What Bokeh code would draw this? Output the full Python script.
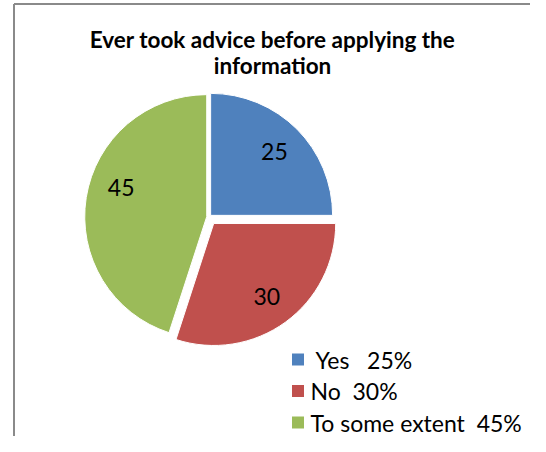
import numpy as np
from bokeh.plotting import figure
from bokeh.models import Range1d, ColumnDataSource
from bokeh.core.properties import value
from bokeh.embed import file_html
from bokeh.resources import INLINE

# ---- data ----
categories = ["Yes", "No", "To some extent"]
values = [25, 30, 45]
slice_labels = ["25", "30", "45"]
legend_labels = ["\u00a0Yes\u00a0\u00a0\u00a025%", "No\u00a0\u00a030%", "To some extent\u00a0\u00a045%"]
title_lines = ["Ever took advice before applying the", "information"]

# ---- styles / layout ----
colors = ["#4F81BD", "#C0504D", "#9BBB59"]
explode = [2.3, 8.0, 2.3]
label_nudge_deg = [0.0, 0.0, -9.6]
FONT = "Lato"

W, H = 530, 436


def Y(py):
    return H - py


p = figure(width=W, height=H, x_range=Range1d(0, W), y_range=Range1d(0, H),
           output_backend="svg", toolbar_location=None, min_border=0,
           x_axis_location=None, y_axis_location=None)
p.grid.visible = False
p.outline_line_color = None
p.background_fill_color = "white"
p.border_fill_color = "white"

# chart border (left and top)
p.line(x=[13.5, 13.5], y=[Y(3.5), Y(H + 2)], line_color="#8a8a8a", line_width=2)
p.line(x=[13.5, W + 2], y=[Y(3.5), Y(3.5)], line_color="#8a8a8a", line_width=2)

# pie
cx, cy, r = 208.5, Y(216.5), 122
vals = np.array(values, dtype=float)
frac = vals / vals.sum()
cum = np.cumsum(frac)
prev = np.concatenate([[0.0], cum[:-1]])
starts = 90 - prev * 360
ends = 90 - cum * 360
mids = (starts + ends) / 2
ex = np.array(explode)
xs = cx + ex * np.cos(np.radians(mids))
ys = cy + ex * np.sin(np.radians(mids))

src = ColumnDataSource(dict(x=xs, y=ys, start=np.radians(starts), end=np.radians(ends),
                            color=colors, cat=categories))
p.wedge(x="x", y="y", radius=r, start_angle="start", end_angle="end",
        direction="clock", fill_color="color", line_color="white", line_width=1, source=src)

lr = 0.74 * r
la = np.radians(mids + np.array(label_nudge_deg))
lx = xs + lr * np.cos(la)
ly = ys + lr * np.sin(la)
p.text(x=lx, y=ly, text=slice_labels, text_font=value(FONT), text_font_size="23px",
       text_align="center", text_baseline="middle", text_color="black")

# title
p.text(x=[272, 272], y=[Y(38.5), Y(65)], text=title_lines, text_font=value(FONT),
       text_font_size="22.5px", text_font_style="bold", text_align="center",
       text_baseline="middle", text_color="black")

# legend
n = len(categories)
row_y = Y(359) - np.arange(n) * 31.5
p.rect(x=[297.5] * n, y=row_y, width=12, height=12, fill_color=colors, line_color=None)
p.text(x=[310] * n, y=row_y, text=legend_labels, text_font=value(FONT), text_font_size="23px",
       text_align="left", text_baseline="middle", text_color="black")

open("out.html", "w").write(file_html(p, INLINE))
